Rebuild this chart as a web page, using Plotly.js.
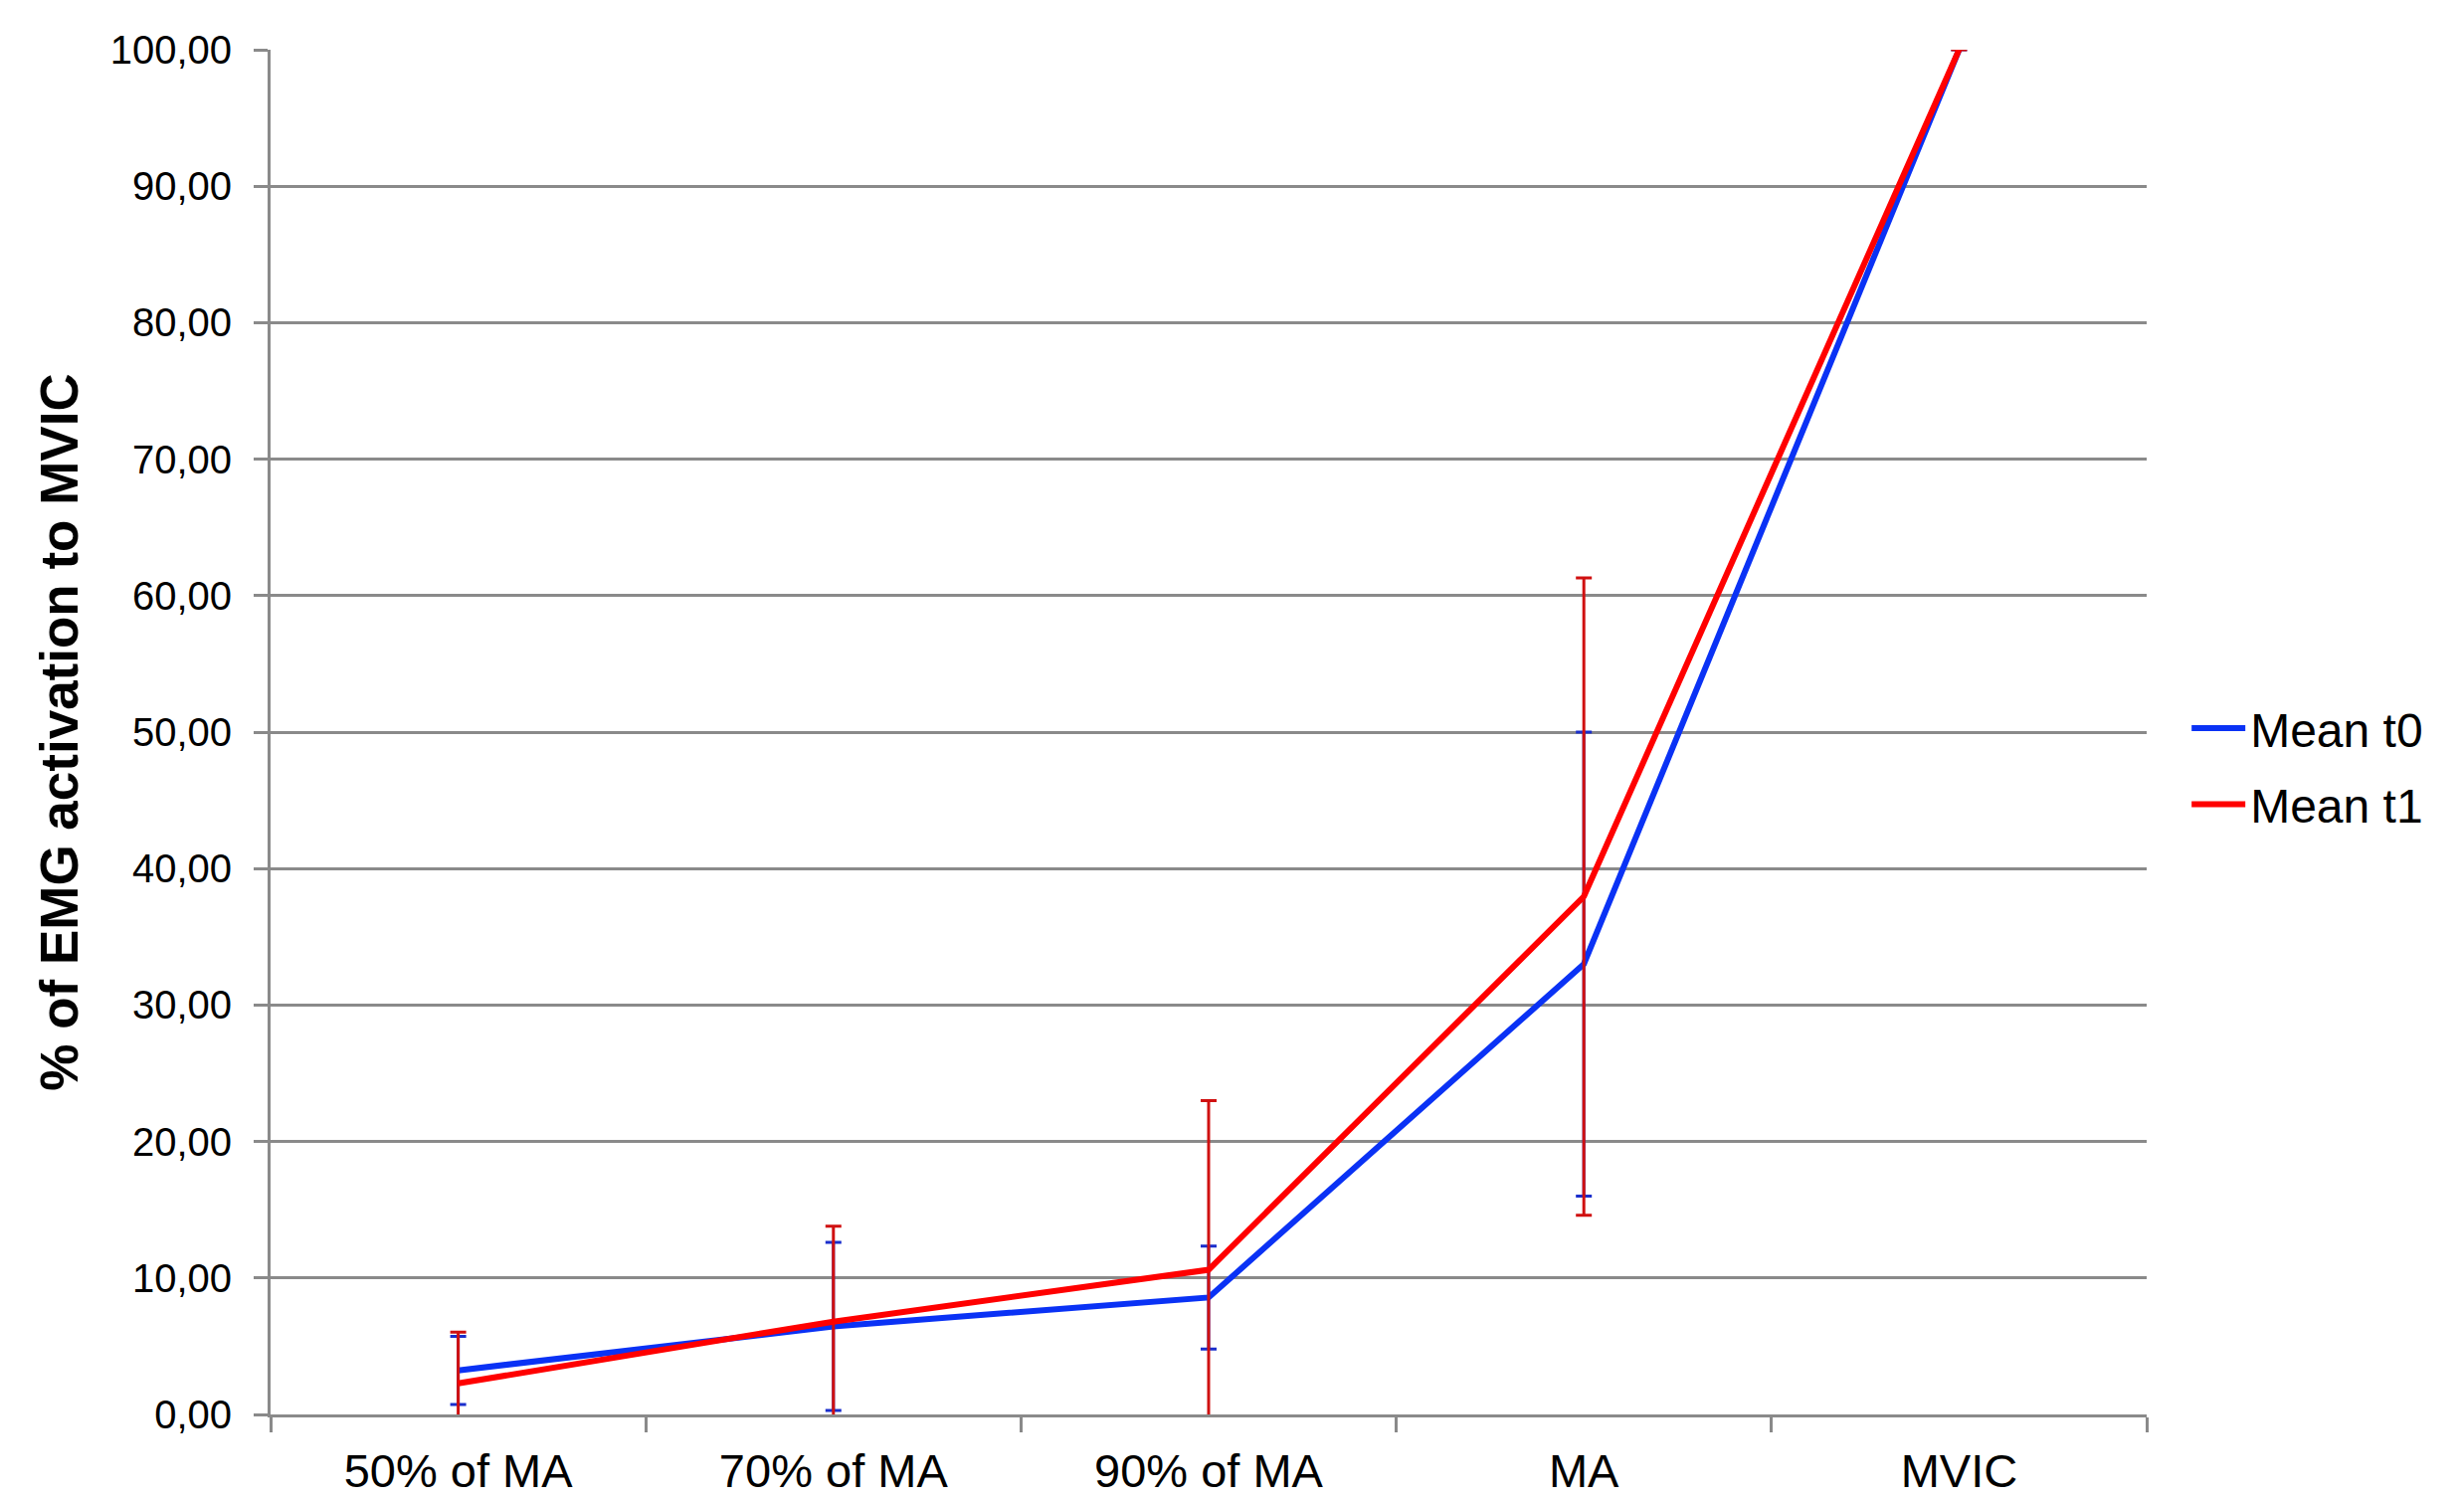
<!DOCTYPE html>
<html>
<head>
<meta charset="utf-8">
<script src="https://cdn.plot.ly/plotly-3.0.1.min.js"></script>
<style>
  html, body { margin: 0; padding: 0; background: #ffffff; }
  #chart { width: 2477px; height: 1506px; }
</style>
</head>
<body>
<div id="chart"></div>
<script>
// ---- data ----
const categories = ["50% of MA", "70% of MA", "90% of MA", "MA", "MVIC"];
const meanT0 = [3.23, 6.45, 8.57, 33.0, 100.0];
const sdT0   = [2.50, 6.16, 3.77, 17.0, 0];
const meanT1 = [2.28, 6.80, 10.60, 37.95, 100.0];
const sdT1   = [3.75, 7.00, 12.40, 23.35, 0];
const seriesNames = ["Mean t0", "Mean t1"];
const yTickVals = [0, 10, 20, 30, 40, 50, 60, 70, 80, 90, 100];

const FONT = "Liberation Sans, Arial, Helvetica, sans-serif";
const GRID = "#8a8a8a";

const traces = [
  {
    x: categories, y: meanT0, name: seriesNames[0], type: "scatter", mode: "lines",
    legendgroup: "g0",
    line: { color: "#0a32f5", width: 6 },
    error_y: { type: "data", array: sdT0, visible: true, color: "#1a2ecc", thickness: 3, width: 8 }
  },
  {
    x: categories, y: meanT1, name: seriesNames[1], type: "scatter", mode: "lines",
    legendgroup: "g1",
    line: { color: "#ff0000", width: 6 },
    error_y: { type: "data", array: sdT1, visible: true, color: "#d01010", thickness: 3, width: 8 }
  }
];

const layout = {
  width: 2477, height: 1506,
  paper_bgcolor: "#ffffff", plot_bgcolor: "#ffffff",
  separators: ",.",
  margin: { l: 272, r: 319, t: 50, b: 84, pad: 0 },
  font: { family: FONT, color: "#000000" },
  showlegend: true,
  legend: {
    x: 1.0213, xanchor: "left", y: 0.475, yanchor: "middle",
    font: { family: FONT, size: 48, color: "#000000" },
    itemwidth: 54, tracegroupgap: 11,
    bgcolor: "rgba(0,0,0,0)"
  },
  xaxis: {
    type: "category", range: [-0.5, 4.5],
    showgrid: false, zeroline: false,
    showline: true, linecolor: GRID, linewidth: 3,
    ticks: "outside", ticklen: 15, tickwidth: 3, tickcolor: GRID,
    tickson: "boundaries",
    tickfont: { family: FONT, size: 47, color: "#000000" },
    ticklabelstandoff: 14,
    fixedrange: true
  },
  yaxis: {
    range: [0, 100], tickvals: yTickVals, tickformat: ".2f",
    showgrid: true, gridcolor: GRID, gridwidth: 3,
    zeroline: false,
    showline: true, linecolor: GRID, linewidth: 3,
    ticks: "outside", ticklen: 14, tickwidth: 3, tickcolor: GRID,
    tickfont: { family: FONT, size: 40, color: "#000000" },
    ticklabelstandoff: 14,
    title: {
      text: "<b>% of EMG activation to MVIC</b>",
      font: { family: FONT, size: 53, color: "#000000" },
      standoff: 16
    },
    automargin: false,
    fixedrange: true
  }
};

Plotly.newPlot("chart", traces, layout, { displayModeBar: false, staticPlot: true });
</script>
</body>
</html>
